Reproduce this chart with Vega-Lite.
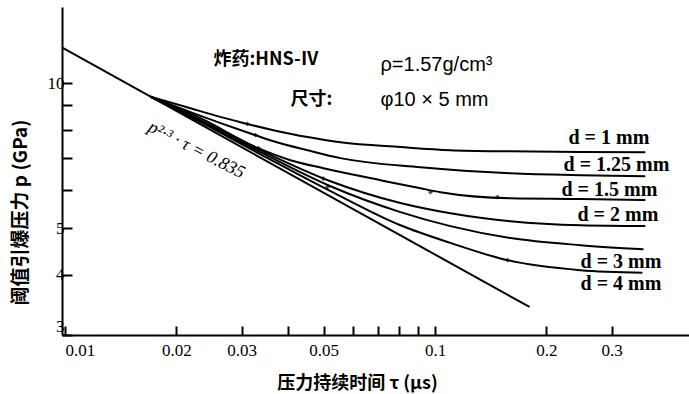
{
  "$schema": "https://vega.github.io/schema/vega-lite/v6.json",
  "width": 627,
  "height": 328,
  "autosize": {"type": "none"},
  "padding": {"left": 62, "top": 7, "right": 0, "bottom": 59},
  "config": {"view": {"stroke": null}, "font": "Liberation Serif", "background": "white"},
  "datasets": {
    "curves": [
      {"d": "1", "t": 0.01701, "p": 9.38}, {"d": "1", "t": 0.02182, "p": 8.87}, {"d": "1", "t": 0.02977, "p": 8.30}, {"d": "1", "t": 0.03658, "p": 7.99}, {"d": "1", "t": 0.04522, "p": 7.73}, {"d": "1", "t": 0.0555, "p": 7.54}, {"d": "1", "t": 0.0806, "p": 7.37}, {"d": "1", "t": 0.11, "p": 7.26}, {"d": "1", "t": 0.1599, "p": 7.22}, {"d": "1", "t": 0.2472, "p": 7.20}, {"d": "1", "t": 0.37, "p": 7.19},
      {"d": "1.25", "t": 0.01701, "p": 9.38}, {"d": "1.25", "t": 0.02182, "p": 8.71}, {"d": "1.25", "t": 0.0327, "p": 7.80}, {"d": "1.25", "t": 0.03658, "p": 7.58}, {"d": "1.25", "t": 0.04522, "p": 7.26}, {"d": "1.25", "t": 0.0555, "p": 6.99}, {"d": "1.25", "t": 0.0913, "p": 6.69}, {"d": "1.25", "t": 0.1599, "p": 6.50}, {"d": "1.25", "t": 0.2472, "p": 6.44}, {"d": "1.25", "t": 0.37, "p": 6.41},
      {"d": "1.5", "t": 0.01701, "p": 9.38}, {"d": "1.5", "t": 0.02322, "p": 8.46}, {"d": "1.5", "t": 0.0333, "p": 7.33}, {"d": "1.5", "t": 0.04066, "p": 6.92}, {"d": "1.5", "t": 0.04992, "p": 6.66}, {"d": "1.5", "t": 0.0712, "p": 6.29}, {"d": "1.5", "t": 0.0913, "p": 6.05}, {"d": "1.5", "t": 0.1034, "p": 5.94}, {"d": "1.5", "t": 0.1599, "p": 5.77}, {"d": "1.5", "t": 0.2472, "p": 5.75}, {"d": "1.5", "t": 0.37, "p": 5.72},
      {"d": "2", "t": 0.01701, "p": 9.38}, {"d": "2", "t": 0.02322, "p": 8.38}, {"d": "2", "t": 0.03374, "p": 7.26}, {"d": "2", "t": 0.05216, "p": 6.26}, {"d": "2", "t": 0.0806, "p": 5.64}, {"d": "2", "t": 0.11, "p": 5.37}, {"d": "2", "t": 0.1599, "p": 5.17}, {"d": "2", "t": 0.2472, "p": 5.07}, {"d": "2", "t": 0.37, "p": 5.05},
      {"d": "3", "t": 0.01701, "p": 9.38}, {"d": "3", "t": 0.02322, "p": 8.34}, {"d": "3", "t": 0.03374, "p": 7.19}, {"d": "3", "t": 0.05216, "p": 6.11}, {"d": "3", "t": 0.0806, "p": 5.40}, {"d": "3", "t": 0.11, "p": 5.05}, {"d": "3", "t": 0.1599, "p": 4.77}, {"d": "3", "t": 0.2472, "p": 4.61}, {"d": "3", "t": 0.3658, "p": 4.52},
      {"d": "4", "t": 0.01701, "p": 9.38}, {"d": "4", "t": 0.02322, "p": 8.30}, {"d": "4", "t": 0.03374, "p": 7.12}, {"d": "4", "t": 0.05216, "p": 5.97}, {"d": "4", "t": 0.0806, "p": 5.07}, {"d": "4", "t": 0.11, "p": 4.66}, {"d": "4", "t": 0.1569, "p": 4.29}, {"d": "4", "t": 0.2472, "p": 4.09}, {"d": "4", "t": 0.3634, "p": 4.04}
    ],
    "limit": [
      {"t": 0.0098, "p": 11.87},
      {"t": 0.18, "p": 3.43}
    ],
    "markers": [
      {"t": 0.03111, "p": 8.23},
      {"t": 0.0327, "p": 7.80},
      {"t": 0.0333, "p": 7.33},
      {"t": 0.0499, "p": 6.34},
      {"t": 0.0512, "p": 6.09},
      {"t": 0.0972, "p": 5.94},
      {"t": 0.1475, "p": 5.80},
      {"t": 0.1569, "p": 4.29}
    ],
    "dlabels": [
      {"t": 0.2294, "p": 7.69, "label": "d = 1 mm"},
      {"t": 0.2224, "p": 6.76, "label": "d = 1.25 mm"},
      {"t": 0.2196, "p": 6.00, "label": "d = 1.5 mm"},
      {"t": 0.2426, "p": 5.32, "label": "d = 2 mm"},
      {"t": 0.2472, "p": 4.25, "label": "d = 3 mm"},
      {"t": 0.2472, "p": 3.83, "label": "d = 4 mm"}
    ],
    "boldnotes": [
      {"t": 0.02518, "p": 11.16, "label": "炸药:HNS-Ⅳ"},
      {"t": 0.04066, "p": 9.22, "label": "尺寸:"}
    ],
    "plainnotes": [
      {"t": 0.0712, "p": 10.90, "label": "ρ=1.57g/cm³"},
      {"t": 0.0712, "p": 9.22, "label": "φ10 × 5 mm"}
    ],
    "eq": [
      {"t": 0.02265, "p": 7.26, "label": "p²·³ · τ = 0.835"}
    ]
  },
  "layer": [
    {
      "data": {"name": "limit"},
      "mark": {"type": "line", "color": "black", "strokeWidth": 2},
      "encoding": {
        "x": {
          "field": "t", "type": "quantitative",
          "scale": {"type": "log", "domain": [0.00981, 0.4856], "nice": false},
          "axis": {
            "values": [0.01, 0.02, 0.03, 0.04, 0.05, 0.06, 0.07, 0.08, 0.09, 0.1, 0.2, 0.3],
            "labelExpr": "(datum.value == 0.04 || (datum.value > 0.055 && datum.value < 0.095)) ? '' : format(datum.value, '~g')",
            "labelAlign": {"condition": {"test": "datum.value == 0.01", "value": "left"}, "value": "center"},
            "grid": false,
            "domainColor": "black", "domainWidth": 2,
            "tickColor": "black", "tickWidth": 2, "tickSize": -9,
            "labelFont": "Liberation Serif", "labelFontSize": 17, "labelColor": "black", "labelPadding": 16,
            "labelFlush": false,
            "title": "压力持续时间 τ (μs)",
            "titleFont": "Noto Sans CJK SC", "titleFontSize": 18, "titleFontWeight": "bold", "titleColor": "black",
            "titleX": 295, "titleY": 48, "titleAnchor": "middle", "titleBaseline": "middle"
          }
        },
        "y": {
          "field": "p", "type": "quantitative",
          "scale": {"type": "log", "domain": [3, 14.4], "nice": false},
          "axis": {
            "values": [3, 4, 5, 6, 7, 8, 9, 10],
            "labelExpr": "(datum.value == 3 || datum.value == 4 || datum.value == 5 || datum.value == 10) ? '' + datum.value : ''",
            "labelBaseline": {"condition": {"test": "datum.value == 3", "value": "bottom"}, "value": "middle"},
            "grid": false,
            "domainColor": "black", "domainWidth": 2,
            "tickColor": "black", "tickWidth": 2, "tickSize": -10,
            "labelFont": "Liberation Serif", "labelFontSize": 17, "labelColor": "black", "labelPadding": 8,
            "labelFlush": false,
            "title": "阈值引爆压力 p (GPa)",
            "titleFont": "Noto Sans CJK SC", "titleFontSize": 19, "titleFontWeight": "bold", "titleColor": "black",
            "titleX": -42, "titleY": 205, "titleAnchor": "middle", "titleBaseline": "middle"
          }
        }
      }
    },
    {
      "data": {"name": "curves"},
      "mark": {"type": "line", "color": "black", "strokeWidth": 2, "interpolate": "monotone"},
      "encoding": {
        "x": {"field": "t", "type": "quantitative"},
        "y": {"field": "p", "type": "quantitative"},
        "detail": {"field": "d"}
      }
    },
    {
      "data": {"name": "markers"},
      "mark": {"type": "point", "shape": "cross", "filled": true, "color": "black", "size": 18},
      "encoding": {
        "x": {"field": "t", "type": "quantitative"},
        "y": {"field": "p", "type": "quantitative"}
      }
    },
    {
      "data": {"name": "dlabels"},
      "mark": {"type": "text", "align": "left", "baseline": "middle", "font": "Liberation Serif", "fontSize": 20, "fontWeight": "bold", "color": "black"},
      "encoding": {
        "x": {"field": "t", "type": "quantitative"},
        "y": {"field": "p", "type": "quantitative"},
        "text": {"field": "label"}
      }
    },
    {
      "data": {"name": "boldnotes"},
      "mark": {"type": "text", "align": "left", "baseline": "middle", "font": "Noto Sans CJK SC", "fontSize": 18, "fontWeight": "bold", "color": "black"},
      "encoding": {
        "x": {"field": "t", "type": "quantitative"},
        "y": {"field": "p", "type": "quantitative"},
        "text": {"field": "label"}
      }
    },
    {
      "data": {"name": "plainnotes"},
      "mark": {"type": "text", "align": "left", "baseline": "middle", "font": "Liberation Sans", "fontSize": 20, "color": "black"},
      "encoding": {
        "x": {"field": "t", "type": "quantitative"},
        "y": {"field": "p", "type": "quantitative"},
        "text": {"field": "label"}
      }
    },
    {
      "data": {"name": "eq"},
      "mark": {"type": "text", "align": "center", "baseline": "middle", "font": "Liberation Serif", "fontSize": 18, "fontStyle": "italic", "angle": 27, "color": "black"},
      "encoding": {
        "x": {"field": "t", "type": "quantitative"},
        "y": {"field": "p", "type": "quantitative"},
        "text": {"field": "label"}
      }
    }
  ]
}
